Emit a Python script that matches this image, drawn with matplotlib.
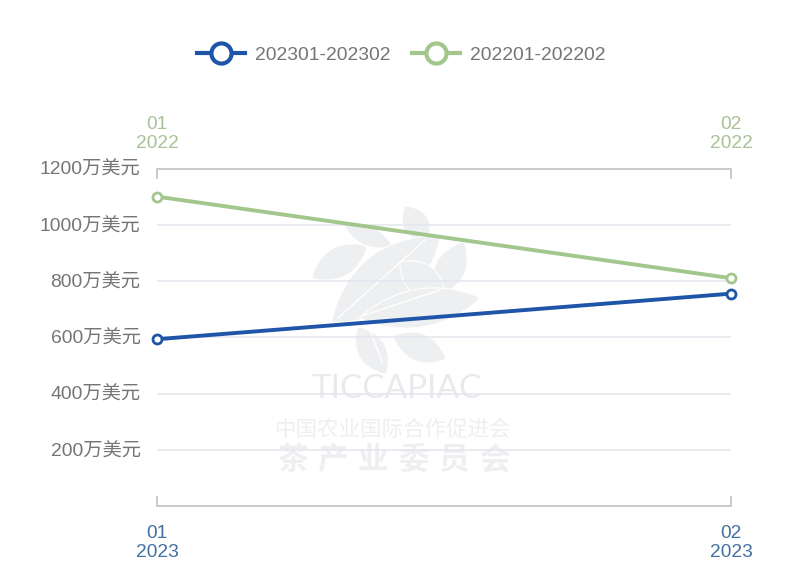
import matplotlib

matplotlib.use("Agg")
import matplotlib.pyplot as plt
import numpy as np
from matplotlib.lines import Line2D
from matplotlib.patches import Polygon

plt.rcParams["font.family"] = ["Liberation Sans", "Noto Sans CJK SC", "DejaVu Sans"]

MONTHS = ["01", "02"]
YEAR_2023 = ["2023", "2023"]
YEAR_2022 = ["2022", "2022"]
VALUES_2023 = [593, 755]
VALUES_2022 = [1100, 810]
LABEL_2023 = "202301-202302"
LABEL_2022 = "202201-202202"
Y_TICKS = [200, 400, 600, 800, 1000, 1200]
Y_UNIT = "万美元"

BLUE = "#1f55a8"
GREEN = "#a3c68d"
BLUE_TEXT = "#44709f"
GREEN_TEXT = "#a8c295"
GREY_TEXT = "#757575"
AXIS_GREY = "#cbcbcb"
GRID = "#e6e6ef"
MARK = "#eeeff1"

WIDTH, HEIGHT = 800, 577

# watermark leaves: tip, tip, width in image pixels
LEAVES = [
    (405, 206, 427, 242, 26),
    (345, 226, 392, 246, 20),
    (312, 278, 367, 246, 30),
    (332, 322, 440, 236, 54),
    (464, 242, 436, 296, 30),
    (400, 262, 444, 298, 32),
    (360, 318, 480, 298, 38),
    (358, 327, 386, 374, 28),
    (393, 336, 446, 359, 28),
]
VEINS = [(338, 318, 425, 240), (362, 316, 440, 290), (370, 330, 382, 362)]
MARK_TITLE = "TICCAPIAC"
MARK_LINE_1 = "中国农业国际合作促进会"
MARK_LINE_2 = "茶产业委员会"


def draw_leaf(ax, x0, y0, x1, y1, width):
    t = np.linspace(0, 1, 40)
    dx, dy = x1 - x0, y1 - y0
    length = np.hypot(dx, dy)
    bulge = width / 2 * np.sin(np.pi * t) ** 0.8
    nx, ny = -dy / length, dx / length
    upper = np.column_stack([x0 + dx * t + nx * bulge, y0 + dy * t + ny * bulge])
    lower = np.column_stack([x0 + dx * t - nx * bulge, y0 + dy * t - ny * bulge])
    ax.add_patch(Polygon(np.vstack([upper, lower[::-1]]), facecolor=MARK, edgecolor="white", lw=0.8))


def draw_watermark(fig):
    ax = fig.add_axes([0, 0, 1, 1], zorder=0)
    ax.set_xlim(0, WIDTH)
    ax.set_ylim(HEIGHT, 0)
    ax.axis("off")
    for leaf in LEAVES:
        draw_leaf(ax, *leaf)
    for x0, y0, x1, y1 in VEINS:
        ax.plot([x0, x1], [y0, y1], color="white", lw=1)
    ax.text(397, 389, MARK_TITLE, color="#e9eaed", fontsize=24, ha="center", va="center",
            family=["Lato", "DejaVu Sans"])
    ax.text(393, 430, MARK_LINE_1, color=MARK, fontsize=15.5, ha="center", va="center",
            family=["Noto Sans CJK SC"])
    for x, char in zip(np.linspace(292, 494, len(MARK_LINE_2)), MARK_LINE_2):
        ax.text(x, 460, char, color=MARK, fontsize=22, ha="center", va="center",
                family=["Noto Sans CJK SC"], fontweight="bold")


def main():
    fig = plt.figure(figsize=(WIDTH / 100, HEIGHT / 100), dpi=100)
    draw_watermark(fig)

    ax = fig.add_axes(
        [157 / WIDTH, (HEIGHT - 506) / HEIGHT, (731 - 157) / WIDTH, (506 - 168.5) / HEIGHT],
        zorder=1,
    )
    ax.patch.set_alpha(0)
    x = np.arange(len(MONTHS))

    ax.plot(x, VALUES_2022, color=GREEN, lw=2.8, marker="o", ms=6.5, mfc="white", mew=2,
            clip_on=False, zorder=4)
    ax.plot(x, VALUES_2023, color=BLUE, lw=2.8, marker="o", ms=6.5, mfc="white", mew=2,
            clip_on=False, zorder=5)

    ax.set_xlim(0, 1)
    ax.set_ylim(0, 1200)
    ax.set_yticks(Y_TICKS, [f"{v}{Y_UNIT}" for v in Y_TICKS])
    ax.tick_params(axis="y", length=0, pad=11.8, labelsize=13.9, labelcolor=GREY_TEXT)
    ax.grid(axis="y", color=GRID, lw=1.2)
    ax.set_axisbelow(True)

    ax.set_xticks(x, [f"{m}\n{y}" for m, y in zip(MONTHS, YEAR_2023)], linespacing=1.15)
    ax.tick_params(axis="x", direction="in", length=7, width=1.4, color=AXIS_GREY, pad=14,
                   labelsize=13.8, labelcolor=BLUE_TEXT)

    top = ax.twiny()
    top.set_xlim(0, 1)
    top.patch.set_alpha(0)
    top.set_xticks(x, [f"{m}\n{y}" for m, y in zip(MONTHS, YEAR_2022)], linespacing=1.15)
    top.tick_params(axis="x", direction="in", length=7, width=1.4, color=AXIS_GREY, pad=11.8,
                    labelsize=13.8, labelcolor=GREEN_TEXT)

    for axis in (ax, top):
        axis.spines["left"].set_visible(False)
        axis.spines["right"].set_visible(False)
        axis.spines["bottom"].set_color(AXIS_GREY)
        axis.spines["top"].set_color(AXIS_GREY)
        axis.spines["bottom"].set_linewidth(1.4)
        axis.spines["top"].set_linewidth(1.4)

    handles = [
        Line2D([], [], color=BLUE, lw=3, marker="o", ms=14.5, mfc="white", mew=3),
        Line2D([], [], color=GREEN, lw=3, marker="o", ms=14.5, mfc="white", mew=3),
    ]
    fig.legend(
        handles,
        [LABEL_2023, LABEL_2022],
        ncol=2,
        loc="center",
        bbox_to_anchor=(401 / WIDTH, (HEIGHT - 55) / HEIGHT),
        frameon=False,
        fontsize=13.9,
        labelcolor=GREY_TEXT,
        handlelength=2.5,
        handletextpad=0.5,
        columnspacing=1.1,
    )

    fig.savefig("out.png", dpi=100)
    plt.close(fig)


if __name__ == "__main__":
    main()
